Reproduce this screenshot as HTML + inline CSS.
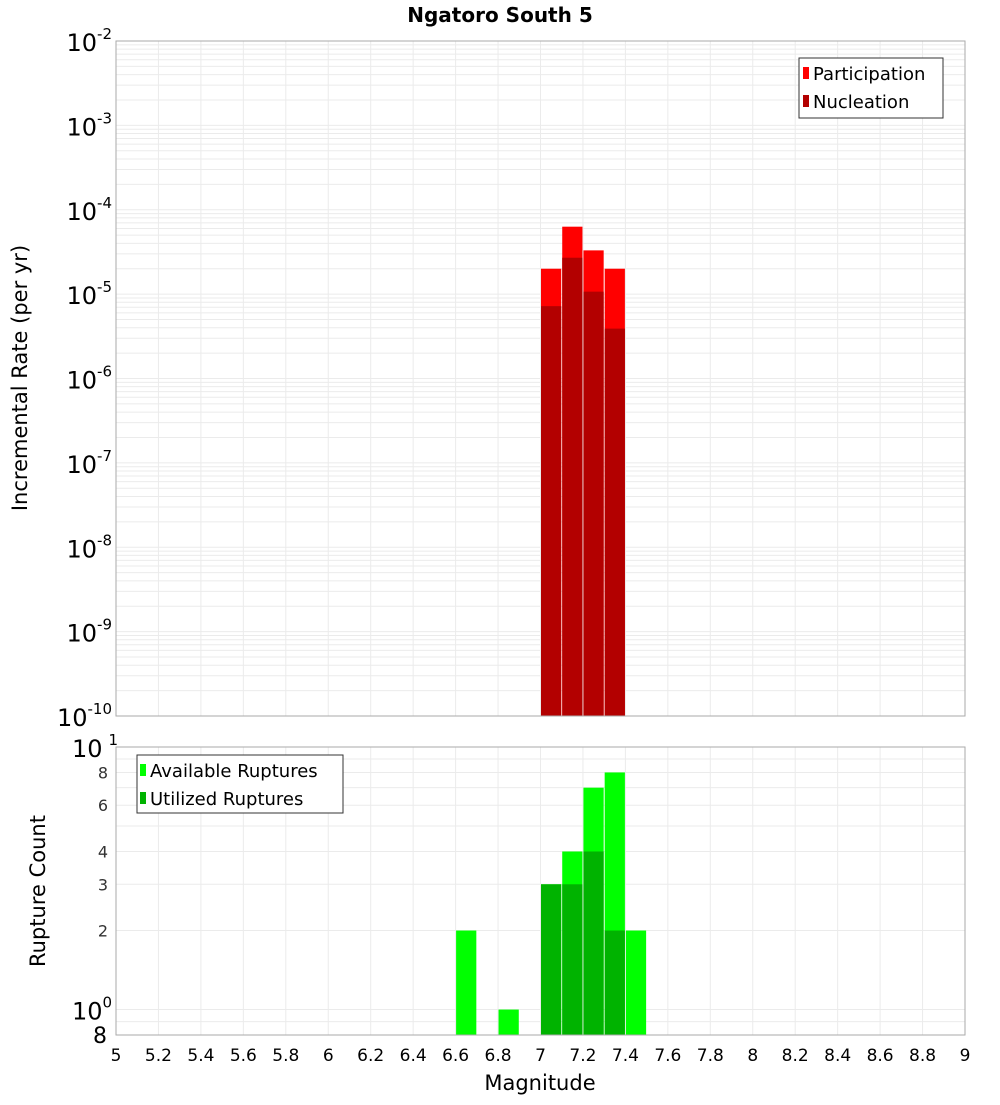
<!DOCTYPE html>
<html><head><meta charset="utf-8"><style>
body{margin:0;background:#fff;}
svg text{font-family:"DejaVu Sans","Liberation Sans",sans-serif;}
</style></head><body>
<svg id="c" width="1000" height="1100" xmlns="http://www.w3.org/2000/svg"></svg>
<script>
const xTicks=[5,5.2,5.4,5.6,5.8,6,6.2,6.4,6.6,6.8,7,7.2,7.4,7.6,7.8,8,8.2,8.4,8.6,8.8,9];
const topBins=[7.05,7.15,7.25,7.35];
const participation=[2.0e-5,6.3e-5,3.3e-5,2.0e-5];
const nucleation=[7.2e-6,2.7e-5,1.07e-5,3.9e-6];
const availBins=[6.65,6.85,7.05,7.15,7.25,7.35,7.45];
const available=[2,1,3,4,7,8,2];
const utilBins=[7.05,7.15,7.25,7.35];
const utilized=[3,3,4,2];
const topExps=[-2,-3,-4,-5,-6,-7,-8,-9,-10];
const botTicks=[8,6,4,3,2];

const NS="http://www.w3.org/2000/svg",svg=document.getElementById('c');
function el(t,a,p){const e=document.createElementNS(NS,t);for(const k in a)e.setAttribute(k,a[k]);(p||svg).appendChild(e);return e;}
const X0=116,X1=965,T0=41,T1=716,B0=747,B1=1035;
const xs=v=>X0+(v-5)/4*(X1-X0);
const ty=v=>T0+(-2-Math.log10(v))/8*(T1-T0);
const by=v=>B0+(1-Math.log10(v))/Math.log10(10/0.8)*(B1-B0);
const bw=0.1*(X1-X0)/4;

el('rect',{x:X0,y:T0,width:X1-X0,height:T1-T0,fill:'#fff'});
el('rect',{x:X0,y:B0,width:X1-X0,height:B1-B0,fill:'#fff'});
// grid
const g=el('g',{stroke:'#ebebeb','stroke-width':1});


xTicks.forEach(v=>{el('line',{x1:xs(v),x2:xs(v),y1:T0,y2:T1},g);el('line',{x1:xs(v),x2:xs(v),y1:B0,y2:B1},g);});
for(let e=-10;e<-2;e++)for(let m=1;m<10;m++){const y=ty(m*Math.pow(10,e));el('line',{x1:X0,x2:X1,y1:y,y2:y},g);}
[0.8,0.9,1,2,3,4,5,6,7,8,9].forEach(v=>{const y=by(v);el('line',{x1:X0,x2:X1,y1:y,y2:y},g);});

// top bars
topBins.forEach((m,i)=>{
 const r=el('rect',{x:xs(m)-bw/2+0.5,y:ty(participation[i]),width:bw-1,height:T1-ty(participation[i]),fill:'#ff0000'});
 
 
});
topBins.forEach((m,i)=>{
 const r=el('rect',{x:xs(m)-bw/2+0.5,y:ty(nucleation[i]),width:bw-1,height:T1-ty(nucleation[i]),fill:'#b30000'});
 
 
});
availBins.forEach((m,i)=>{
 const r=el('rect',{x:xs(m)-bw/2+0.5,y:by(available[i]),width:bw-1,height:B1-by(available[i]),fill:'#00ff00'});
 
 
});
utilBins.forEach((m,i)=>{
 const r=el('rect',{x:xs(m)-bw/2+0.5,y:by(utilized[i]),width:bw-1,height:B1-by(utilized[i]),fill:'#00b300'});
 
 
});
el('rect',{x:X0,y:T0,width:X1-X0,height:T1-T0,fill:'none',stroke:'#aaa'});
el('rect',{x:X0,y:B0,width:X1-X0,height:B1-B0,fill:'none',stroke:'#aaa'});

// top y labels
topExps.forEach(e=>{
 const t=el('text',{x:112,y:ty(Math.pow(10,e))+10,'text-anchor':'end','font-size':24});
 
 
 t.innerHTML='10<tspan dy="-12" font-size="15">'+e+'</tspan>';
});
// bottom y labels
let t=el('text',{x:72,y:by(10)+10,'font-size':24});t.innerHTML='10<tspan dx="6" dy="-12" font-size="15">1</tspan>';
t=el('text',{x:72,y:by(1)+10,'font-size':24});t.innerHTML='10<tspan dy="-12" font-size="15">0</tspan>';
t=el('text',{x:107,y:B1+8,'font-size':22,'text-anchor':'end'});t.textContent='8';
botTicks.forEach(v=>{const t=el('text',{x:108,y:by(v)+6,'text-anchor':'end','font-size':16,fill:'#333'});
 
 
 t.textContent=v;});
// x labels
xTicks.forEach(v=>{const t=el('text',{x:xs(v),y:1061,'text-anchor':'middle','font-size':17});
 
 
 t.textContent=String(v);});
</script>
<svg width="1000" height="1100" style="position:absolute;left:0;top:0" xmlns="http://www.w3.org/2000/svg">
<text x="500" y="22" text-anchor="middle" font-size="20" font-weight="bold" font-family="DejaVu Sans,sans-serif">Ngatoro South 5</text>
<text x="540" y="1090" text-anchor="middle" font-size="21" font-family="DejaVu Sans,sans-serif">Magnitude</text>
<text transform="translate(27,378) rotate(-90)" text-anchor="middle" font-size="21" font-family="DejaVu Sans,sans-serif">Incremental Rate (per yr)</text>
<text transform="translate(45,891) rotate(-90)" text-anchor="middle" font-size="21" font-family="DejaVu Sans,sans-serif">Rupture Count</text>
<g font-family="DejaVu Sans,sans-serif" font-size="18">
<rect x="799" y="58" width="144" height="60" fill="#fff" stroke="#333"/>
<rect x="803" y="67" width="6" height="12" fill="#ff0000"/><text x="813" y="80">Participation</text>
<rect x="803" y="95" width="6" height="12" fill="#b30000"/><text x="813" y="108">Nucleation</text>
</g>
<g font-family="DejaVu Sans,sans-serif" font-size="18">
<rect x="137" y="755" width="206" height="58" fill="#fff" stroke="#333"/>
<rect x="140" y="764" width="6" height="12" fill="#00ff00"/><text x="150" y="777">Available Ruptures</text>
<rect x="140" y="792" width="6" height="12" fill="#00b300"/><text x="150" y="805">Utilized Ruptures</text>
</g>
</svg>
</body></html>
